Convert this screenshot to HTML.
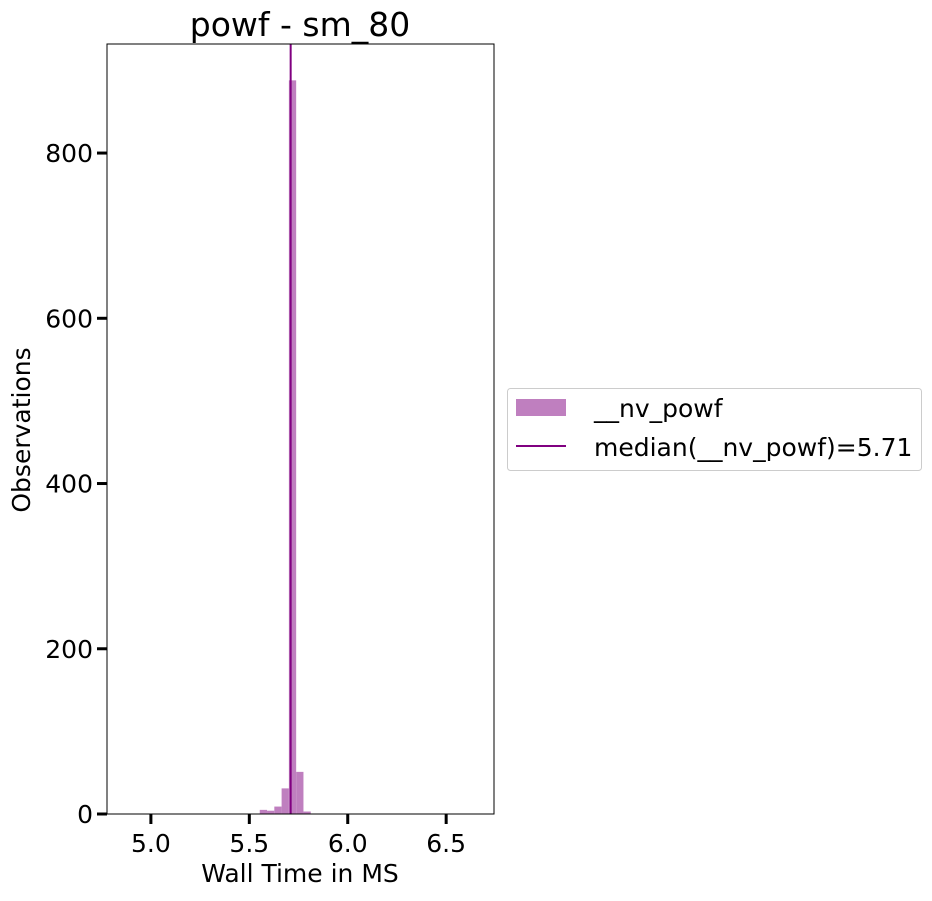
<!DOCTYPE html>
<html><head><meta charset="utf-8"><style>
body{margin:0;background:#fff}
text{font-family:"DejaVu Sans","Liberation Sans",sans-serif;fill:#000}
</style></head><body>
<svg width="932" height="896" xmlns="http://www.w3.org/2000/svg">
<g id="plot"></g>
</svg>
<script>
const binStarts=[5.553,5.590,5.627,5.664,5.701,5.738,5.775];
const binWidth=0.037;
const counts=[5,4,9,31,888,51,3];
const medianValue=5.71;
const xTicks=[5.0,5.5,6.0,6.5];
const xTickLabels=["5.0","5.5","6.0","6.5"];
const yTicks=[0,200,400,600,800];
const yTickLabels=["0","200","400","600","800"];
const L=107,R=494,T=44,B=814;
const xmin=4.777,xmax=6.743,ymin=0,ymax=932;
const xs=v=>L+(v-xmin)/(xmax-xmin)*(R-L);
const ys=v=>B-(v-ymin)/(ymax-ymin)*(B-T);
const NS="http://www.w3.org/2000/svg";
const g=document.getElementById('plot');
function mk(tag,attrs,parent){const e=document.createElementNS(NS,tag);for(const k in attrs)e.setAttribute(k,attrs[k]);(parent||g).appendChild(e);return e;}
const bars=mk('g',{});


counts.forEach((c,i)=>{
 const x0=xs(binStarts[i]),x1=xs(binStarts[i]+binWidth);
 const r=mk('rect',{x:x0,y:ys(c),width:x1-x0,height:ys(0)-ys(c),fill:'#bf7fbf'},bars);
 
 
});
const ml=mk('line',{x1:xs(medianValue),x2:xs(medianValue),y1:T,y2:B,stroke:'#800080','stroke-width':2});


const frame=mk('rect',{x:L,y:T,width:R-L,height:B-T,fill:'none',stroke:'#000','stroke-width':1});


xTicks.forEach((v,i)=>{
 const t=mk('line',{x1:xs(v),x2:xs(v),y1:B,y2:B+10,stroke:'#000','stroke-width':3});
 
 
 const l=mk('text',{x:xs(v),y:B+38,'text-anchor':'middle','font-size':25});
 l.textContent=xTickLabels[i];
 
 
});
yTicks.forEach((v,i)=>{
 const t=mk('line',{x1:L-10,x2:L,y1:ys(v),y2:ys(v),stroke:'#000','stroke-width':3});
 
 
 const l=mk('text',{x:L-14,y:ys(v)+9,'text-anchor':'end','font-size':25});
 l.textContent=yTickLabels[i];
 
 
});
</script>
<svg width="932" height="896" style="position:absolute;left:0;top:0" xmlns="http://www.w3.org/2000/svg">
<text x="300" y="36" text-anchor="middle" font-size="33">powf - sm_80</text>
<text x="300" y="882" text-anchor="middle" font-size="25">Wall Time in MS</text>
<text x="0" y="0" transform="translate(30,430) rotate(-90)" text-anchor="middle" font-size="25">Observations</text>
<g>
<rect x="507.5" y="388.5" width="414" height="82" rx="3" fill="#fff" stroke="#ccc"/>
<rect x="516" y="399" width="50" height="17" fill="#bf7fbf"/>
<text x="594" y="417" font-size="25">__nv_powf</text>
<line x1="516" x2="566" y1="446" y2="446" stroke="#800080" stroke-width="2"/>
<text x="594" y="456" font-size="25">median(__nv_powf)=5.71</text>
</g>
</svg>
</body></html>
